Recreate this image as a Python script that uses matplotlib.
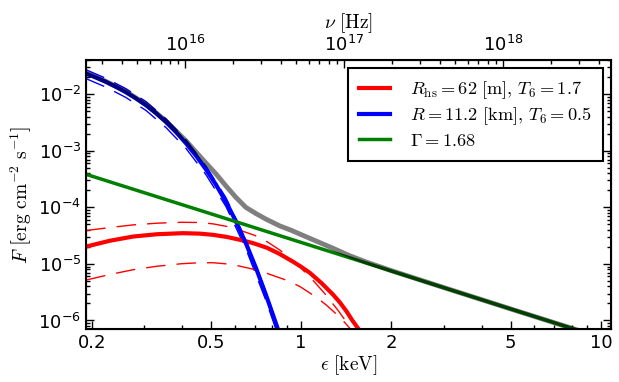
import numpy as np
import matplotlib
matplotlib.use('Agg')
import matplotlib.pyplot as plt
from matplotlib.ticker import FixedLocator, FixedFormatter, NullFormatter

plt.rcParams['mathtext.fontset'] = 'cm'
plt.rcParams['font.family'] = 'DejaVu Sans'
plt.rcParams['font.size'] = 13

# blackbody from the whole surface, R=11.2 km, T6=0.5
eps_ns = [0.1916, 0.2068, 0.2234, 0.2411, 0.2604, 0.2812, 0.3036, 0.3279, 0.3540, 0.3823, 0.4127,
          0.4457, 0.4813, 0.5196, 0.5610, 0.6058, 0.6540, 0.7063, 0.7626, 0.8234, 0.8624]
F_ns = [2.331e-2, 1.980e-2, 1.656e-2, 1.357e-2, 1.085e-2, 8.46e-3, 6.39e-3, 4.65e-3, 3.23e-3, 2.15e-3, 1.362e-3,
        8.23e-4, 4.69e-4, 2.53e-4, 1.256e-4, 5.68e-5, 2.32e-5, 8.57e-6, 2.86e-6, 8.96e-7, 4.36e-7]
eps_ns_d = [0.192, 0.223, 0.260, 0.304, 0.354, 0.413, 0.481, 0.561, 0.654, 0.763, 0.856]
F_ns_hi = [2.70e-2, 1.92e-2, 1.26e-2, 7.4e-3, 3.7e-3, 1.57e-3, 5.4e-4, 1.49e-4, 2.65e-5, 3.2e-6, 5.5e-7]
F_ns_lo = [1.88e-2, 1.34e-2, 8.8e-3, 5.15e-3, 2.58e-3, 1.10e-3, 3.8e-4, 1.04e-4, 1.85e-5, 2.25e-6, 3.9e-7]

# hot spot, R_hs=62 m, T6=1.7
eps_hs = [0.192, 0.23, 0.275, 0.33, 0.403, 0.46, 0.508, 0.565, 0.625, 0.69, 0.769, 0.85,
          0.938, 1.0, 1.069, 1.17, 1.275, 1.345, 1.417, 1.48, 1.55]
F_hs = [2.03e-5, 2.57e-5, 3.05e-5, 3.35e-5, 3.50e-5, 3.43e-5, 3.27e-5, 3.0e-5, 2.67e-5, 2.34e-5, 1.93e-5, 1.49e-5,
        1.10e-5, 8.9e-6, 6.96e-6, 4.57e-6, 2.9e-6, 2.1e-6, 1.45e-6, 1.01e-6, 7.2e-7]
eps_hs_hi = [0.192, 0.23, 0.275, 0.33, 0.40, 0.46, 0.51, 0.565, 0.62, 0.70, 0.77, 0.85,
             0.94, 1.0, 1.1, 1.2, 1.33, 1.45]
F_hs_hi = [3.9e-5, 4.4e-5, 4.9e-5, 5.25e-5, 5.45e-5, 5.4e-5, 5.1e-5, 4.6e-5, 4.0e-5, 3.2e-5, 2.47e-5, 1.75e-5,
           1.135e-5, 8.4e-6, 5.0e-6, 2.97e-6, 1.49e-6, 7.9e-7]
eps_hs_lo = [0.192, 0.23, 0.275, 0.33, 0.40, 0.46, 0.51, 0.565, 0.62, 0.69, 0.77, 0.88,
             0.99, 1.12, 1.21, 1.30, 1.39, 1.47]
F_hs_lo = [5.2e-6, 6.5e-6, 7.9e-6, 9.1e-6, 1.01e-5, 1.05e-5, 1.05e-5, 1.0e-5, 9.2e-6, 8.1e-6, 6.8e-6, 5.3e-6,
           4.0e-6, 2.6e-6, 1.9e-6, 1.35e-6, 9.5e-7, 6.8e-7]

# power law, Gamma=1.68
eps_pl = [0.19, 0.5, 1.0, 2.0, 5.0, 10.0]
F_pl = [3.9e-4, 7.7e-5, 2.4e-5, 7.5e-6, 1.6e-6, 5.0e-7]

# total
eps_tot = [0.192, 0.223, 0.260, 0.304, 0.354, 0.413, 0.446, 0.481, 0.52, 0.561, 0.606, 0.654, 0.706,
           0.763, 0.849, 0.93, 1.0, 1.15, 1.275, 1.45, 1.657, 2.0, 3.0, 5.0, 10.0]
F_tot = [2.37e-2, 1.69e-2, 1.12e-2, 6.6e-3, 3.35e-3, 1.5e-3, 9.5e-4, 6.1e-4, 3.9e-4, 2.4e-4, 1.5e-4, 1.0e-4, 7.8e-5,
         6.2e-5, 4.7e-5, 3.9e-5, 3.3e-5, 2.4e-5, 1.9e-5, 1.4e-5, 1.07e-5, 7.6e-6, 3.8e-6, 1.6e-6, 5.0e-7]

xticks = [0.2, 0.5, 1, 2, 5, 10]
xticklabels = ['0.2', '0.5', '1', '2', '5', '10']
xminor = [0.3, 0.4, 0.6, 0.7, 0.8, 0.9, 3, 4, 6, 7, 8, 9]

fig = plt.figure(figsize=(6.19, 3.82), dpi=100)
ax = fig.add_axes([0.139, 0.139, 0.848, 0.704])

dash = (0, (14, 8))
ax.plot(eps_ns_d, F_ns_hi, 'b', lw=1, ls=dash)
ax.plot(eps_ns_d, F_ns_lo, 'b', lw=1, ls=dash)
ax.plot(eps_hs_hi, F_hs_hi, 'r', lw=1, ls=dash)
ax.plot(eps_hs_lo, F_hs_lo, 'r', lw=1, ls=dash)
ax.plot(eps_hs, F_hs, 'r', lw=3, label=r'$R_{\rm hs}=62\ [{\rm m}],\, T_6=1.7$')
ax.plot(eps_ns, F_ns, 'b', lw=3, label=r'$R=11.2\ [{\rm km}],\, T_6=0.5$')
ax.plot(eps_pl, F_pl, color='g', lw=2.5, label=r'$\Gamma=1.68$')
ax.plot(eps_tot, F_tot, 'k', lw=3.5, alpha=0.5)

ax.set_xscale('log')
ax.set_yscale('log')
ax.set_xlim(0.1916, 10.8)
ax.set_ylim(7.1e-7, 0.0404)
ax.xaxis.set_major_locator(FixedLocator(xticks))
ax.xaxis.set_major_formatter(FixedFormatter(xticklabels))
ax.xaxis.set_minor_locator(FixedLocator(xminor))
ax.xaxis.set_minor_formatter(NullFormatter())
ax.tick_params(which='both', direction='in', right=True, width=1)
ax.tick_params(which='major', length=6)
ax.tick_params(which='minor', length=3)
for s in ax.spines.values():
    s.set_linewidth(1.5)

ax.set_xlabel(r'$\epsilon\ [{\rm keV}]$', fontsize=14, labelpad=1)
ax.set_ylabel(r'$F\ \left[{\rm erg\ cm^{-2}\ s^{-1}}\right]$', fontsize=14, labelpad=3)

ax2 = ax.twiny()
ax2.set_xscale('log')
ax2.set_xlim(2.38e15, 4.78e18)
ax2.tick_params(which='both', direction='in', width=1)
ax2.tick_params(which='major', length=6)
ax2.tick_params(which='minor', length=3)
ax2.set_xlabel(r'$\nu\ [{\rm Hz}]$', fontsize=14, labelpad=5)

leg = ax.legend(loc='upper right', bbox_to_anchor=(0.985, 0.969), borderaxespad=0,
                fancybox=False, framealpha=1, fontsize=13.2, handlelength=1.7,
                handletextpad=1.1, borderpad=0.6, labelspacing=0.25)
leg.get_frame().set_edgecolor('k')
leg.get_frame().set_linewidth(1.5)

fig.savefig('out.png', dpi=100)
